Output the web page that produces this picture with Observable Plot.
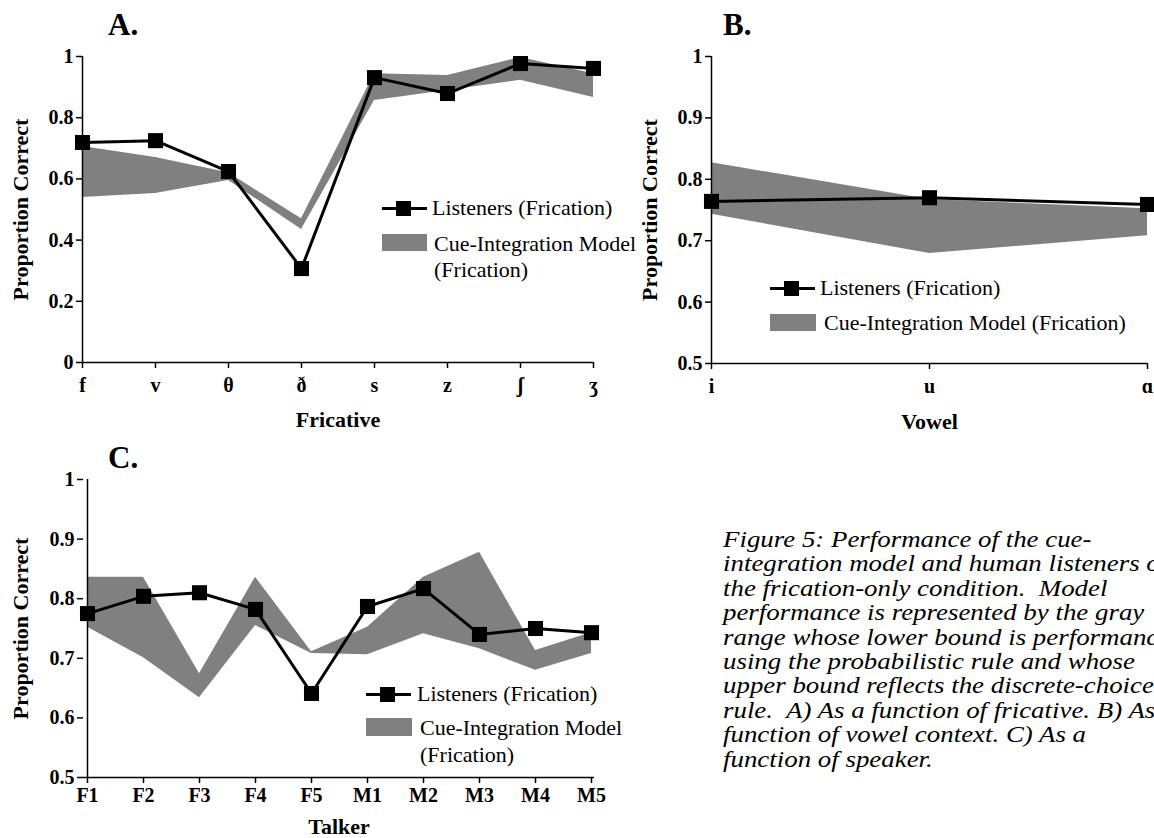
<!DOCTYPE html>
<html>
<head>
<meta charset="utf-8">
<script src="https://cdn.jsdelivr.net/npm/d3@7"></script>
<script src="https://cdn.jsdelivr.net/npm/@observablehq/plot@0.6"></script>
<style>
  html, body { margin: 0; padding: 0; background: #fff; overflow: hidden; }
  #fig { position: relative; width: 1154px; height: 838px; overflow: hidden;
         font-family: "Liberation Serif", "Times New Roman", serif; color: #000; }
  .panel { position: absolute; }
  .letter { position: absolute; font-size: 31px; font-weight: bold; line-height: 1; }
  .lg { position: absolute; font-size: 22px; line-height: 1; white-space: nowrap; }
  .sw-line, .sw-rect { position: absolute; }
  .sw-rect { background: #808080; }
  .caption { position: absolute; left: 723px; top: 527px; font-size: 24px; font-style: italic;
             line-height: 24.4px; white-space: pre; transform: scaleX(1.12); transform-origin: 0 0; }
  g[aria-label="y-axis label"], g[aria-label="x-axis label"] { font-size: 22px; }
</style>
</head>
<body>
<div id="fig"></div>
<script>
// Panel A: proportion correct by fricative
const fricatives = ["f", "v", "θ", "ð", "s", "z", "ʃ", "ʒ"];
const listenersFricative = [0.719, 0.725, 0.624, 0.307, 0.931, 0.879, 0.977, 0.961];
const modelFricativeLow  = [0.539, 0.552, 0.595, 0.435, 0.856, 0.889, 0.922, 0.866];
const modelFricativeHigh = [0.706, 0.670, 0.620, 0.470, 0.944, 0.938, 0.997, 0.944];
const fricativeTicks = [0, 0.2, 0.4, 0.6, 0.8, 1];

// Panel B: proportion correct by vowel context
const vowels = ["i", "u", "ɑ"];
const listenersVowel = [0.764, 0.770, 0.759];
const modelVowelLow  = [0.743, 0.679, 0.708];
const modelVowelHigh = [0.827, 0.767, 0.752];
const vowelTicks = [0.5, 0.6, 0.7, 0.8, 0.9, 1];

// Panel C: proportion correct by talker
const talkers = ["F1", "F2", "F3", "F4", "F5", "M1", "M2", "M3", "M4", "M5"];
const listenersTalker = [0.775, 0.804, 0.810, 0.782, 0.641, 0.787, 0.817, 0.740, 0.750, 0.743];
const modelTalkerLow  = [0.752, 0.701, 0.634, 0.755, 0.708, 0.706, 0.741, 0.716, 0.680, 0.708];
const modelTalkerHigh = [0.836, 0.836, 0.674, 0.836, 0.711, 0.752, 0.836, 0.878, 0.713, 0.743];
const talkerTicks = [0.5, 0.6, 0.7, 0.8, 0.9, 1];

const captionLines = [
  "Figure 5: Performance of the cue-",
  "integration model and human listeners on",
  "the frication-only condition.  Model",
  "performance is represented by the gray",
  "range whose lower bound is performance",
  "using the probabilistic rule and whose",
  "upper bound reflects the discrete-choice",
  "rule.  A) As a function of fricative. B) As a",
  "function of vowel context. C) As a",
  "function of speaker."
];

const GRAY = "#808080";
const fmt = d => String(+d.toFixed(1));

function panel(cfg) {
  const rows = cfg.cats.map((c, i) => ({cat: c, listeners: cfg.listen[i], lo: cfg.lo[i], hi: cfg.hi[i]}));
  const y0 = cfg.ticks[0];
  return Plot.plot({
    width: cfg.width,
    height: cfg.height,
    marginLeft: cfg.m[0], marginRight: cfg.m[1], marginTop: cfg.m[2], marginBottom: cfg.m[3],
    style: {fontFamily: '"Liberation Serif", "Times New Roman", serif', fontSize: "20px",
            fontWeight: "bold", background: "transparent", overflow: "visible", color: "black"},
    x: {type: "point", domain: cfg.cats, padding: 0},
    y: {domain: [y0, cfg.ticks[cfg.ticks.length - 1]]},
    marks: [
      Plot.areaY(rows, {x: "cat", y1: "lo", y2: "hi", fill: GRAY}),
      Plot.line(rows, {x: "cat", y: "listeners", stroke: "black", strokeWidth: 3}),
      Plot.dot(rows, {x: "cat", y: "listeners", symbol: "square", fill: "black", r: 8.5}),
      Plot.ruleY([y0], {stroke: "black", strokeWidth: 1.5}),
      Plot.ruleX([cfg.cats[0]], {stroke: "black", strokeWidth: 1.5}),
      Plot.axisX({tickSize: 6, tickPadding: cfg.xPad, fontSize: 20, strokeWidth: 1.5,
                  label: cfg.xLabel, labelAnchor: "center", labelOffset: cfg.xOff, labelArrow: "none"}),
      Plot.axisY({ticks: cfg.ticks, tickFormat: fmt, tickSize: 6, tickPadding: 3, fontSize: 20,
                  strokeWidth: 1.5, label: "Proportion Correct", labelAnchor: "center",
                  labelOffset: cfg.yOff, labelArrow: "none"})
    ]
  });
}

const fig = document.getElementById("fig");

function place(el, left, top) {
  el.classList.add("panel");
  el.style.left = left + "px";
  el.style.top = top + "px";
  fig.appendChild(el);
}

place(panel({cats: fricatives, listen: listenersFricative, lo: modelFricativeLow, hi: modelFricativeHigh,
             ticks: fricativeTicks, xLabel: "Fricative", width: 640, height: 440,
             m: [82, 47, 56, 78], xPad: 9, xOff: 64, yOff: 70}), 0, 0);
place(panel({cats: vowels, listen: listenersVowel, lo: modelVowelLow, hi: modelVowelHigh,
             ticks: vowelTicks, xLabel: "Vowel", width: 524, height: 440,
             m: [81, 7, 56, 77], xPad: 9, xOff: 65, yOff: 70}), 630, 0);
place(panel({cats: talkers, listen: listenersTalker, lo: modelTalkerLow, hi: modelTalkerHigh,
             ticks: talkerTicks, xLabel: "Talker", width: 640, height: 398,
             m: [83, 46, 39, 61], xPad: 4, xOff: 56, yOff: 71}), 0, 440);

// Panel letters
[["A.", 108, 9], ["B.", 723, 9], ["C.", 108, 442]].forEach(([t, x, y]) => {
  const d = document.createElement("div");
  d.className = "letter"; d.textContent = t;
  d.style.left = x + "px"; d.style.top = y + "px";
  fig.appendChild(d);
});

// Legends: a line-and-square swatch for listeners, a gray block for the model range
function text(t, x, cy) {
  const d = document.createElement("div");
  d.className = "lg"; d.textContent = t;
  d.style.left = x + "px"; d.style.top = (cy - 11) + "px";
  fig.appendChild(d);
}
function lineSwatch(x, cy) {
  const ns = "http://www.w3.org/2000/svg";
  const s = document.createElementNS(ns, "svg");
  s.setAttribute("width", 45); s.setAttribute("height", 17);
  s.setAttribute("class", "sw-line");
  s.style.left = x + "px"; s.style.top = (cy - 8.5) + "px";
  const l = document.createElementNS(ns, "line");
  l.setAttribute("x1", 0); l.setAttribute("x2", 45); l.setAttribute("y1", 8.5); l.setAttribute("y2", 8.5);
  l.setAttribute("stroke", "black"); l.setAttribute("stroke-width", 3);
  const r = document.createElementNS(ns, "rect");
  r.setAttribute("x", 14); r.setAttribute("y", 1); r.setAttribute("width", 15); r.setAttribute("height", 15);
  r.setAttribute("fill", "black");
  s.appendChild(l); s.appendChild(r);
  fig.appendChild(s);
}
function rectSwatch(x, top, w, h) {
  const d = document.createElement("div");
  d.className = "sw-rect";
  d.style.left = x + "px"; d.style.top = top + "px";
  d.style.width = w + "px"; d.style.height = h + "px";
  fig.appendChild(d);
}

// A
lineSwatch(382, 208); text("Listeners (Frication)", 432, 208);
rectSwatch(382, 234, 45, 17); text("Cue-Integration Model", 434, 244); text("(Frication)", 434, 270);
// B
lineSwatch(770, 288); text("Listeners (Frication)", 820, 288);
rectSwatch(770, 314, 46, 17); text("Cue-Integration Model (Frication)", 824, 323);
// C
lineSwatch(366, 694); text("Listeners (Frication)", 417, 694);
rectSwatch(366, 718, 46, 18); text("Cue-Integration Model", 420, 728); text("(Frication)", 420, 755);

// Caption
const cap = document.createElement("div");
cap.className = "caption";
captionLines.forEach(line => {
  const d = document.createElement("div");
  d.textContent = line;
  cap.appendChild(d);
});
fig.appendChild(cap);
</script>
</body>
</html>
